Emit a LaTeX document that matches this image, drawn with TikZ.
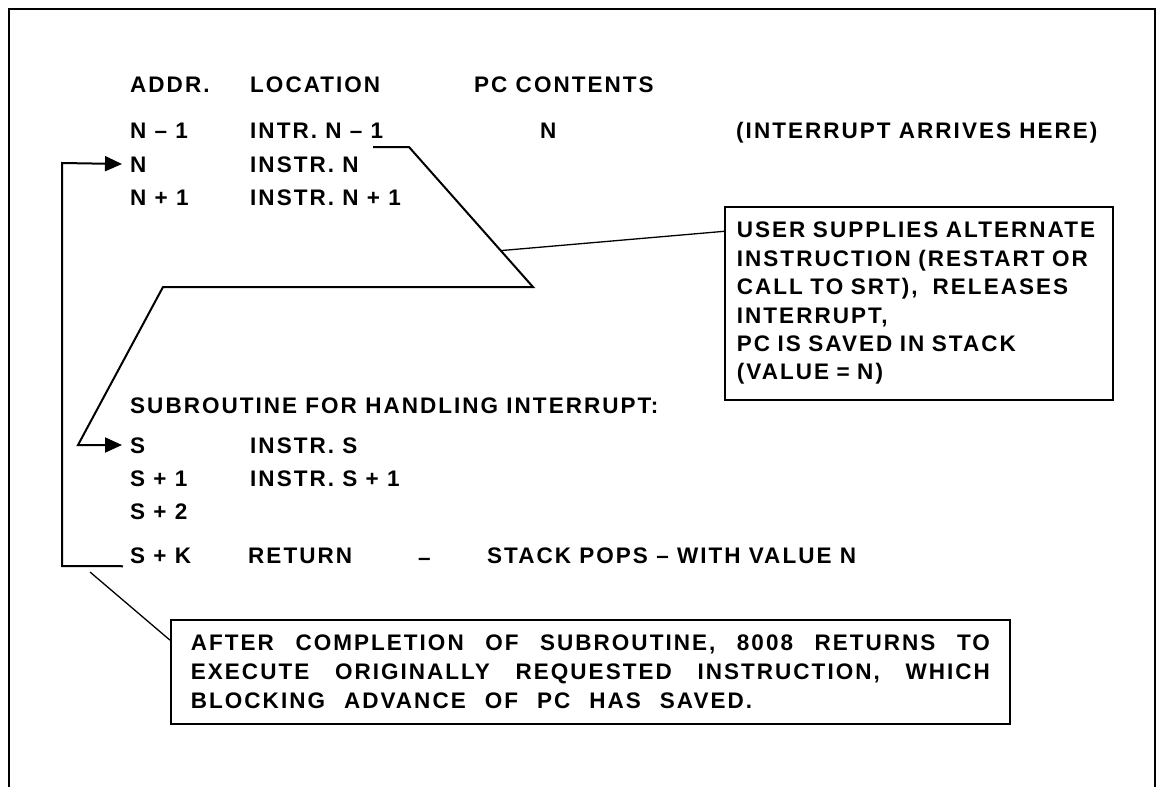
\documentclass[tikz,border=0pt]{standalone}
\usepackage{fontspec}
\newfontfamily\dfont{Liberation Sans}[LetterSpace=9]
\usetikzlibrary{arrows.meta,calc}
\newcommand\jfil{\hspace{0pt plus 1fil}}
\begin{document}
\begin{tikzpicture}[x=1pt,y=-1pt,
  dtext/.style={font=\dfont\bfseries\fontsize{22.5}{28.4}\selectfont},
  txt/.style={dtext, inner sep=0pt, anchor=west, text height=16.1pt, text depth=0pt},
  ln/.style={line width=2pt, line join=miter},
  thinln/.style={line width=1.3pt},
  tip/.style={-{Triangle[length=17pt,width=15pt]}},
  boxed/.style={draw, line width=1.8pt, dtext, anchor=north west, align=left}]
\useasboundingbox (0,0) rectangle (1162,787);
% outer frame
\draw[line width=2pt] (9,787) -- (9,9) -- (1155,9) -- (1155,787);
% header
\node[txt] (hAddr) at (130,84) {ADDR.};
\node[txt] (hLoc) at (250,84) {LOCATION};
\node[txt] (hPC) at (474,84) {PC CONTENTS};
% rows N
\node[txt] (aN1) at (130,130) {N – 1};
\node[txt] (lN1) at (250,130) {INTR. N – 1};
\node[txt] (pN) at (540,130) {N};
\node[txt] (note1) at (736,130) {(INTERRUPT ARRIVES HERE)};
\node[txt] (aN) at (130,164) {N};
\node[txt] (lN) at (250,164) {INSTR. N};
\node[txt] (aN2) at (130,197) {N + 1};
\node[txt] (lN2) at (250,197) {INSTR. N + 1};
% user box
\node[boxed, minimum width=388pt, minimum height=193pt, text width=364pt, inner xsep=12pt] (ubox) at (724,206)
  {USER SUPPLIES ALTERNATE\\ INSTRUCTION (RESTART OR\\ CALL TO SRT),\ \ RELEASES\\ INTERRUPT,\\ PC IS SAVED IN STACK\\ (VALUE = N)};
% subroutine
\node[txt] (sub) at (130,405) {SUBROUTINE FOR HANDLING INTERRUPT:};
\node[txt] (aS) at (130,445) {S};
\node[txt] (lS) at (250,445) {INSTR. S};
\node[txt] (aS1) at (130,478) {S + 1};
\node[txt] (lS1) at (250,478) {INSTR. S + 1};
\node[txt] (aS2) at (130,511) {S + 2};
\node[txt] (aSK) at (130,555) {S + K};
\node[txt] (lSK) at (248,555) {RETURN};
\node[txt] (dsh) at (418,557) {–};
\node[txt] (pop) at (487,555) {STACK POPS – WITH VALUE N};
% after box
\node[boxed, font=\dfont\bfseries\fontsize{22.5}{29}\selectfont, minimum width=839pt, minimum height=104pt, text width=799pt, inner xsep=20pt] (abox) at (170,619)
  {\makebox[799pt][s]{AFTER\jfil COMPLETION\jfil OF\jfil SUBROUTINE,\jfil 8008\jfil RETURNS\jfil TO}\\
   \makebox[799pt][s]{EXECUTE\jfil ORIGINALLY\jfil REQUESTED\jfil INSTRUCTION,\jfil WHICH}\\
   {\spaceskip=19pt BLOCKING ADVANCE OF PC HAS SAVED.}};
% connectors
\coordinate (c0) at (373,147);
\coordinate (c1) at (409,147);
\coordinate (c2) at (533,287);
\coordinate (c3) at (163,287);
\coordinate (c4) at (78,445);
\draw[ln, tip] (c0) -- (c1) -- (c2) -- (c3) -- (c4) -- ([xshift=-8pt]aS.west);
\coordinate (d0) at (62,566);
\coordinate (d1) at (62,163);
\draw[ln, tip] ($(aSK.south west)+(-7,3)$) -- (d0) -- (d1) -- ([xshift=-8pt]aN.west);
\draw[thinln] ($(c1)!0.74!(c2)$) -- ($(ubox.north west)!0.13!(ubox.south west)$);
\coordinate (e0) at (90,572);
\draw[thinln] (e0) -- ($(abox.north west)!0.2!(abox.south west)$);
\end{tikzpicture}
\end{document}
